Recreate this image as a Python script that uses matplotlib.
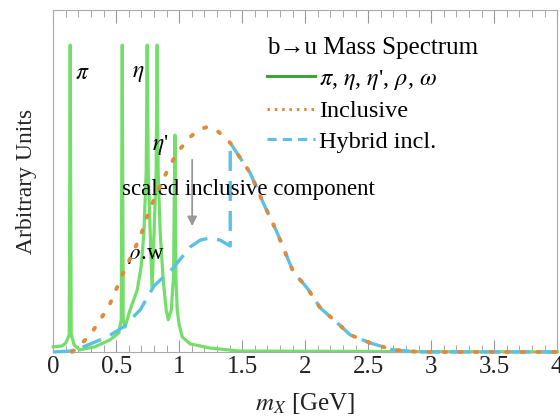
import matplotlib
matplotlib.use('Agg')
import matplotlib.pyplot as plt
from matplotlib.lines import Line2D
from matplotlib.ticker import MultipleLocator

# exclusive resonances (pi, eta, rho, omega, eta')
excl_x = [0.0, 0.07, 0.10, 0.127, 0.135, 0.143, 0.167, 0.21, 0.33, 0.45, 0.52, 0.54, 0.548, 0.556,
          0.57, 0.61, 0.667, 0.70, 0.72, 0.738, 0.746, 0.754, 0.785, 0.817, 0.825, 0.833, 0.849,
          0.873, 0.897, 0.913, 0.937, 0.955, 0.966, 0.974, 0.984, 1.0, 1.024, 1.087, 1.246, 1.48, 4.0]
excl_y = [0.017, 0.02, 0.03, 0.057, 1.023, 0.057, 0.023, 0.007, 0.017, 0.04, 0.063, 0.107, 1.023, 0.107,
          0.083, 0.14, 0.207, 0.29, 0.40, 0.60, 1.023, 0.60, 0.21, 0.60, 1.023, 0.60, 0.40,
          0.24, 0.14, 0.107, 0.14, 0.25, 0.723, 0.25, 0.14, 0.09, 0.05, 0.027, 0.013, 0.003, 0.0]

# inclusive spectrum
incl_x = [0.15, 0.214, 0.294, 0.373, 0.45, 0.556, 0.69, 0.77, 0.873, 0.98, 1.087, 1.167, 1.222,
          1.286, 1.349, 1.405, 1.563, 1.667, 1.778, 1.905, 2.016, 2.119, 2.254, 2.357, 2.516,
          2.698, 2.91, 4.0]
incl_y = [0.0, 0.023, 0.057, 0.107, 0.16, 0.263, 0.383, 0.48, 0.577, 0.663, 0.717, 0.743, 0.75,
          0.743, 0.72, 0.697, 0.597, 0.497, 0.397, 0.267, 0.213, 0.147, 0.097, 0.057, 0.03,
          0.007, 0.0, 0.0]

# hybrid: scaled inclusive below 1.4 GeV, full inclusive above
hyb_x = [0.0, 0.135, 0.238, 0.429, 0.556, 0.69, 0.8, 0.952, 1.087, 1.167, 1.246, 1.325, 1.389,
         1.405, 1.405, 1.563, 1.667, 1.778, 1.905, 2.016, 2.119, 2.254, 2.357, 2.516, 2.698,
         2.91, 4.0]
hyb_y = [0.0, 0.003, 0.017, 0.05, 0.083, 0.14, 0.22, 0.28, 0.35, 0.373, 0.38, 0.373, 0.357,
         0.353, 0.697, 0.597, 0.497, 0.397, 0.267, 0.213, 0.147, 0.097, 0.057, 0.03, 0.007,
         0.0, 0.0]

plt.rcParams['font.family'] = 'Liberation Serif'
plt.rcParams['mathtext.fontset'] = 'stix'

fig = plt.figure(figsize=(5.6, 4.18), dpi=100)
ax = fig.add_axes([0.095, 0.158, 0.90, 0.818])

green = '#74de6a'
orange = '#e08a3a'
blue = '#5bc0e4'

ax.plot(excl_x, excl_y, color=green, lw=2.3, zorder=2, clip_on=False)
ax.plot(hyb_x, hyb_y, color=blue, lw=2.4, dashes=(6, 3), zorder=3, clip_on=False)
ax.plot(incl_x, incl_y, color=orange, lw=2.8, linestyle=(0, (0.6, 3.4)),
        dash_capstyle='round', zorder=4, clip_on=False)

ax.set_xlim(0, 4)
ax.set_ylim(0, 1.14)
ax.set_yticks([])
ax.xaxis.set_minor_locator(MultipleLocator(0.1))
ax.set_xticks([0, 0.5, 1, 1.5, 2, 2.5, 3, 3.5, 4])
ax.set_xticklabels(['0', '0.5', '1', '1.5', '2', '2.5', '3', '3.5', '4'])
ax.tick_params(axis='x', which='both', direction='in', top=True, colors='#999999',
               labelcolor='#222222', labelsize=18, pad=3)
ax.tick_params(axis='x', which='major', length=9, width=0.8)
ax.tick_params(axis='x', which='minor', length=5, width=0.6)
for s in ax.spines.values():
    s.set_color('#aaaaaa')
    s.set_linewidth(0.8)

ax.set_xlabel('$m_X$ [GeV]', fontsize=18, color='#222222', labelpad=9)
ax.set_ylabel('Arbitrary Units', fontsize=17, color='#222222', labelpad=12)

ax.text(0.23, 0.927, r'$\pi$', fontsize=17, ha='center', va='center')
ax.text(0.675, 0.927, r'$\eta$', fontsize=17, ha='center', va='center')
ax.text(0.85, 0.69, r"$\eta$'", fontsize=17, ha='center', va='center')
ax.text(0.548, 0.54, 'scaled inclusive component', fontsize=16.5, ha='left', va='center')
ax.text(0.595, 0.323, r'$\rho$.w', fontsize=16.5, ha='left', va='center')

ax.annotate('', xy=(1.103, 0.41), xytext=(1.103, 0.65),
            arrowprops=dict(arrowstyle='-|>', color='#999999', lw=1.3, mutation_scale=14))

handles = [Line2D([], [], color='#3aa53a', lw=2.2),
           Line2D([], [], color=orange, lw=2.2, linestyle=(0, (0.8, 1.6))),
           Line2D([], [], color=blue, lw=2.2, dashes=(3, 2))]
labels = [r"$\pi$, $\eta$, $\eta$', $\rho$, $\omega$", 'Inclusive', 'Hybrid incl.']
leg = ax.legend(handles, labels, title='b\u2192u Mass Spectrum', loc='upper left',
                bbox_to_anchor=(0.39, 0.97), frameon=False, fontsize=17.5, title_fontsize=18,
                handlelength=2.0, handletextpad=0.15, labelspacing=0.35, borderpad=0.2,
                alignment='left')

fig.savefig('out.png', dpi=100)
